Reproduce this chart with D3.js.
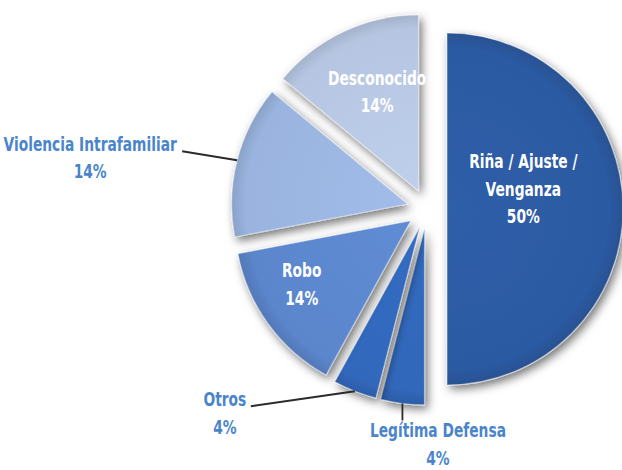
<!DOCTYPE html>
<html>
<head>
<meta charset="utf-8">
<script src="https://cdn.jsdelivr.net/npm/d3@7"></script>
<style>
  html, body { margin: 0; padding: 0; background: #ffffff; }
  svg { display: block; }
  text { font-family: "DejaVu Sans", "Liberation Sans", sans-serif; font-weight: bold; }
</style>
</head>
<body>
<div id="chart"></div>
<script>
// ---- data ----
const categories = ["Riña / Ajuste / Venganza", "Legítima Defensa", "Otros", "Robo", "Violencia Intrafamiliar", "Desconocido"];
const labelLines = [["Riña / Ajuste /", "Venganza"], ["Legítima Defensa"], ["Otros"], ["Robo"], ["Violencia Intrafamiliar"], ["Desconocido"]];
const values = [50, 4, 4, 14, 14, 14];
const percentLabels = ["50%", "4%", "4%", "14%", "14%", "14%"];

// ---- styles / layout ----
const sliceColors = ["#2c5aa2", "#3167ba", "#3268bc", "#5b86cc", "#9ab4df", "#b6c6e2"];
const outsideColor = "#4a85cb";
const W = 622, H = 470;
const cx = 427, cy = 209, R = 176, explode = 20;
const labelLayout = [
  { inside: true, ang: 75, r: 79 },
  { inside: false, leader: [0, 17], text: [35.5, 23.5] },
  { inside: false, leader: [-104, 15], text: [-26, 6.5] },
  { inside: true, ang: 240, r: 126 },
  { inside: false, leader: [-55, -9], text: [-92, 6] },
  { inside: true, ang: 337.5, r: 108 }
];
const fontSize = 20, lineH = 27.5, squeeze = 0.69;

const svg = d3.select("#chart").append("svg")
  .attr("width", W).attr("height", H);

const defs = svg.append("defs");
const f = defs.append("filter").attr("id", "shadow")
  .attr("x", "-30%").attr("y", "-30%").attr("width", "160%").attr("height", "160%");
f.append("feDropShadow").attr("dx", 3).attr("dy", 4).attr("stdDeviation", 5)
  .attr("flood-color", "#000").attr("flood-opacity", 0.55);

sliceColors.forEach((c, i) => {
  const g = defs.append("radialGradient").attr("id", "grad" + i)
    .attr("gradientUnits", "userSpaceOnUse").attr("cx", 0).attr("cy", 0).attr("r", R);
  g.append("stop").attr("offset", "0%").attr("stop-color", d3.color(c).brighter(0.12));
  g.append("stop").attr("offset", "92%").attr("stop-color", c);
  g.append("stop").attr("offset", "100%").attr("stop-color", d3.color(c).darker(0.3));
});

const pie = d3.pie().sort(null).value(d => d).startAngle(0).endAngle(2 * Math.PI);
const arcs = pie(values);
const arc = d3.arc().innerRadius(0).outerRadius(R);

const slices = arcs.map((a, i) => {
  const mid = (a.startAngle + a.endAngle) / 2;
  const ux = Math.sin(mid), uy = -Math.cos(mid);
  return { a, i, mid, ux, uy, x: cx + explode * ux, y: cy + explode * uy };
});

svg.append("g").selectAll("path").data(slices).join("path")
  .attr("transform", d => `translate(${d.x},${d.y})`)
  .attr("d", d => arc(d.a))
  .attr("fill", d => `url(#grad${d.i})`)
  .attr("stroke", "rgba(255,255,255,0.4)")
  .attr("stroke-width", 1.2)
  .attr("stroke-linejoin", "round")
  .attr("filter", "url(#shadow)");

const lg = svg.append("g");
slices.forEach(s => {
  const L = labelLayout[s.i];
  const lines = labelLines[s.i].concat([percentLabels[s.i]]);
  let tx, ty, color;
  if (L.inside) {
    const t = L.ang * Math.PI / 180;
    tx = s.x + L.r * Math.sin(t);
    ty = s.y - L.r * Math.cos(t);
    color = "#ffffff";
  } else {
    const sx = s.x + R * s.ux, sy = s.y + R * s.uy;
    const ex = sx + L.leader[0], ey = sy + L.leader[1];
    lg.append("line").attr("x1", sx).attr("y1", sy).attr("x2", ex).attr("y2", ey)
      .attr("stroke", "#2a2a2a").attr("stroke-width", 1.8);
    tx = ex + L.text[0];
    ty = ey + L.text[1];
    color = outsideColor;
  }
  const n = lines.length;
  const firstBaseline = ty - (n - 1) * lineH / 2 + fontSize * 0.36;
  const txt = lg.append("text").attr("text-anchor", "middle")
    .attr("fill", color).attr("font-size", fontSize)
    .attr("transform", `translate(${tx},0) scale(${squeeze},1)`);
  lines.forEach((ln, k) => {
    txt.append("tspan").attr("x", 0).attr("y", firstBaseline + k * lineH).text(ln);
  });
});
</script>
</body>
</html>
